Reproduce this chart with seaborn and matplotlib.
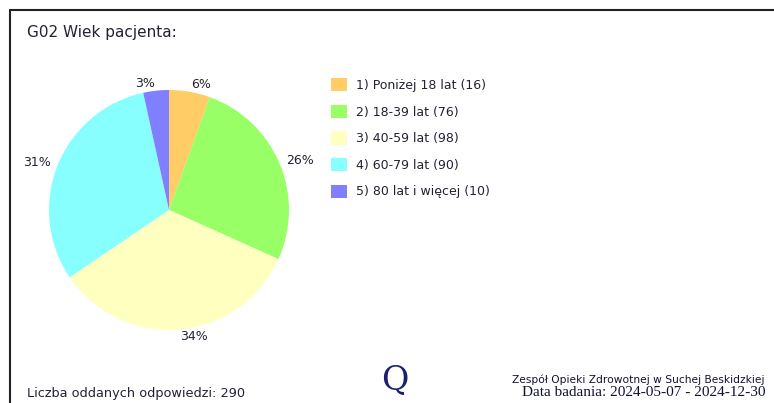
import matplotlib
matplotlib.use('Agg')
import matplotlib.pyplot as plt
from matplotlib.patches import Patch
from matplotlib.lines import Line2D
import seaborn as sns

sns.set_theme(style='white')
plt.rcParams['font.family'] = ['DejaVu Sans']

# data
categories = ['1) Poniżej 18 lat', '2) 18-39 lat', '3) 40-59 lat', '4) 60-79 lat', '5) 80 lat i więcej']
counts = [16, 76, 98, 90, 10]
colors = ['#FFCC66', '#99FF66', '#FFFFC0', '#88FFFF', '#7F7FFF']
title = 'G02 Wiek pacjenta:'
total = sum(counts)

W, H = 774, 403
fig = plt.figure(figsize=(W / 100, H / 100), dpi=100)
fig.patch.set_facecolor('white')

# pie centre ~(169,210) px, radius ~120 px
cx, cy, r = 169, 210, 120
ax = fig.add_axes([(cx - r) / W, (H - cy - r) / H, 2 * r / W, 2 * r / H])
pct = ['%d%%' % round(100 * c / total) for c in counts]
wedges, texts = ax.pie(counts, colors=colors, startangle=90, counterclock=False,
                       labels=pct, labeldistance=1.06, radius=1,
                       wedgeprops=dict(linewidth=0),
                       textprops=dict(fontsize=9, color='#222233'))
ax.set_xlim(-1, 1)
ax.set_ylim(-1, 1)
ax.set_aspect('equal')
ax.axis('off')
for t in texts:
    t.set_clip_on(False)

handles = [Patch(facecolor=c, edgecolor='none') for c in colors]
labels = ['%s (%d)' % (n, c) for n, c in zip(categories, counts)]
fig.legend(handles, labels, loc='upper left', bbox_to_anchor=(320 / W, 1 - 67 / H),
           frameon=False, fontsize=9, handlelength=1.25, handleheight=1.25,
           handletextpad=0.75, labelspacing=1.02, labelcolor='#222233')

# frame lines
fig.add_artist(Line2D([10 / W, 1], [1 - 10 / H] * 2, color='#222222', lw=1.5))
fig.add_artist(Line2D([10 / W] * 2, [0, 1 - 10 / H], color='#222222', lw=1.5))

fig.text(27 / W, 1 - 32 / H, title, fontsize=11, color='#222233', va='center')
fig.text(27 / W, 1 - 393 / H, 'Liczba oddanych odpowiedzi: %d' % total,
         fontsize=9.3, color='#222233', va='center')
fig.text(765 / W, 1 - 380 / H, 'Zespół Opieki Zdrowotnej w Suchej Beskidzkiej',
         fontsize=7.7, color='#111133', va='center', ha='right')
fig.text(765 / W, 1 - 393 / H, 'Data badania: 2024-05-07 - 2024-12-30',
         fontsize=11, color='#111133', va='center', ha='right', family='Liberation Serif')
fig.text(395 / W, 1 - 380 / H, 'Q', fontsize=24, color='#1a1f6e', va='center',
         ha='center', family='DejaVu Serif')

fig.savefig('out.png', dpi=100)
